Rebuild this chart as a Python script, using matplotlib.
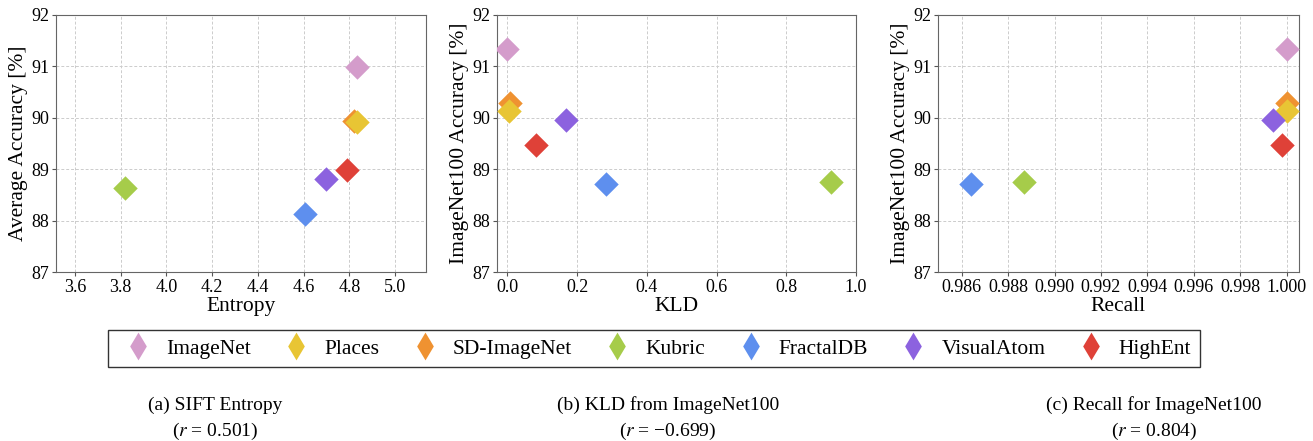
import numpy as np
import matplotlib
matplotlib.use("Agg")
import matplotlib.pyplot as plt
from matplotlib.lines import Line2D

plt.rcParams['font.family'] = ['Liberation Serif', 'DejaVu Serif']
plt.rcParams['mathtext.fontset'] = 'stix'

# Datasets and colours
names = ['ImageNet', 'Places', 'SD-ImageNet', 'Kubric', 'FractalDB', 'VisualAtom', 'HighEnt']
colors = ['#D49CCB', '#E8C534', '#EF9231', '#A6CC4A', '#5E8FEE', '#8C62DF', '#DF4138']

# (a) SIFT entropy vs average accuracy
entropy = [4.835, 4.835, 4.82, 3.82, 4.605, 4.70, 4.79]
avg_acc = [90.98, 89.91, 89.93, 88.63, 88.13, 88.80, 88.98]

# (b) KLD from ImageNet100 / (c) Recall for ImageNet100
kld = [0.0, 0.005, 0.008, 0.928, 0.283, 0.168, 0.082]
recall = [1.0, 1.0, 1.0, 0.9887, 0.9864, 0.9994, 0.9998]
in100_acc = [91.33, 90.14, 90.29, 88.75, 88.71, 89.96, 89.47]

# draw order (back to front)
order = [0, 2, 1, 3, 4, 5, 6]

fig = plt.figure(figsize=(13.13, 4.41), dpi=100)

panels = [
    (entropy, avg_acc, 'Entropy', 'Average Accuracy [%]', (3.517, 5.136),
     [3.6, 3.8, 4.0, 4.2, 4.4, 4.6, 4.8, 5.0], '{:.1f}', 0.0427, 0.2818),
    (kld, in100_acc, 'KLD', 'ImageNet100 Accuracy [%]', (-0.03, 1.0),
     [0.0, 0.2, 0.4, 0.6, 0.8, 1.0], '{:.1f}', 0.3785, 0.2734),
    (recall, in100_acc, 'Recall', 'ImageNet100 Accuracy [%]', (0.98498, 1.00053),
     [0.986, 0.988, 0.990, 0.992, 0.994, 0.996, 0.998, 1.000], '{:.3f}', 0.7144, 0.2749),
]

for xs, ys, xlab, ylab, xlim, xticks, fmt, left, width in panels:
    ax = fig.add_axes([left, 0.3832, width, 0.5828])
    for i in order:
        ax.scatter(xs[i], ys[i], marker='D', s=155, color=colors[i], zorder=3, linewidths=0)
    ax.set_xlim(*xlim)
    ax.set_ylim(87, 92)
    ax.set_xticks(xticks)
    ax.set_xticklabels([fmt.format(t) for t in xticks])
    ax.set_yticks([87, 88, 89, 90, 91, 92])
    ax.tick_params(labelsize=13, length=3, color='#555555', pad=2)
    ax.set_xlabel(xlab, fontsize=15.5, labelpad=1)
    ax.set_ylabel(ylab, fontsize=15.5, labelpad=2)
    ax.grid(True, linestyle=(0, (3, 2)), color='#cccccc', linewidth=0.7)
    ax.set_axisbelow(True)
    for sp in ax.spines.values():
        sp.set_color('#666666')

# legend with tall diamonds
tall_diamond = [(0, 1), (0.6, 0), (0, -1), (-0.6, 0), (0, 1)]
handles = [Line2D([], [], linestyle='none', marker=tall_diamond, markersize=20,
                  markerfacecolor=c, markeredgewidth=0) for c in colors]
leg = fig.legend(handles, names, ncol=7, loc='center', mode='expand',
                 bbox_to_anchor=(108 / 1313, 67 / 441, 1092 / 1313, 51 / 441),
                 fontsize=15.5, frameon=True, fancybox=False, edgecolor='black',
                 handletextpad=0.3, columnspacing=1.0, borderaxespad=0)
leg.get_frame().set_linewidth(1.0)

captions = [
    (215, '(a) SIFT Entropy', '($r$ = 0.501)'),
    (668, '(b) KLD from ImageNet100', '($r$ = \u22120.699)'),
    (1154, '(c) Recall for ImageNet100', '($r$ = 0.804)'),
]
for cx, line1, line2 in captions:
    fig.text(cx / 1313, 1 - 405 / 441, line1, ha='center', va='center', fontsize=14)
    fig.text(cx / 1313, 1 - 431 / 441, line2, ha='center', va='center', fontsize=14)

fig.savefig('out.png', dpi=100)
